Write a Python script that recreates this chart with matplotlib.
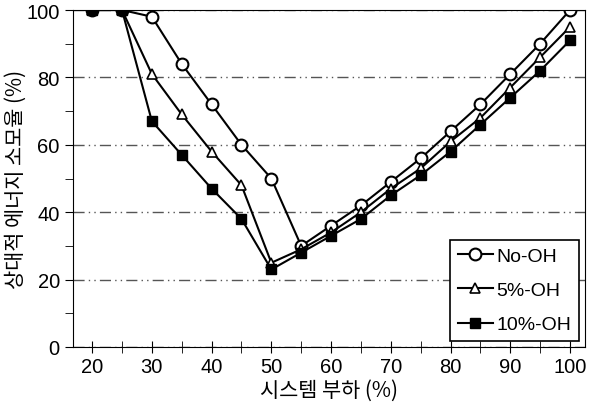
import matplotlib
matplotlib.use("Agg")
import matplotlib.pyplot as plt
from matplotlib.ticker import MultipleLocator

plt.rcParams['font.family'] = ['Liberation Sans', 'Noto Sans CJK KR', 'DejaVu Sans']

load = [20, 25, 30, 35, 40, 45, 50, 55, 60, 65, 70, 75, 80, 85, 90, 95, 100]
no_oh = [100, 100, 98, 84, 72, 60, 50, 30, 36, 42, 49, 56, 64, 72, 81, 90, 100]
oh5 = [100, 100, 81, 69, 58, 48, 25, 29, 34, 40, 47, 53, 61, 68, 77, 86, 95]
oh10 = [100, 100, 67, 57, 47, 38, 23, 28, 33, 38, 45, 51, 58, 66, 74, 82, 91]

fig = plt.figure(figsize=(5.97, 4.14), dpi=100)
ax = fig.add_axes([73/597, 66/414, 512/597, 337/414])

ax.plot(load, no_oh, '-o', color='black', mfc='white', mec='black', ms=8.5, mew=1.5, lw=1.5, label='No-OH')
ax.plot(load, oh5, '-^', color='black', mfc='white', mec='black', ms=7.5, mew=1.2, lw=1.5, label='5%-OH')
ax.plot(load, oh10, '-s', color='black', mfc='black', mec='black', ms=7.5, lw=1.5, label='10%-OH')

ax.set_xlim(16.8, 102.5)
ax.set_ylim(0, 100)
ax.xaxis.set_major_locator(MultipleLocator(10))
ax.xaxis.set_minor_locator(MultipleLocator(5))
ax.yaxis.set_major_locator(MultipleLocator(20))
ax.yaxis.set_minor_locator(MultipleLocator(10))
ax.tick_params(axis='x', which='both', direction='inout', length=8, labelsize=14.5)
ax.tick_params(axis='y', which='both', direction='out', length=6, labelsize=14.5)
ax.grid(axis='y', which='major', color='#555555', linestyle=(0, (8, 3, 1, 3, 1, 3)), lw=1)

kfont = ['Noto Sans CJK KR', 'DejaVu Sans']
ax.set_xlabel('시스템 부하 (%)', fontsize=15, family=kfont, weight='medium', labelpad=2)
ax.set_ylabel('상대적 에너지 소모율 (%)', fontsize=15, family=kfont, weight='medium', labelpad=0)

leg = ax.legend(loc='lower right', fontsize=14, fancybox=False, edgecolor='black',
                handlelength=1.8, handletextpad=0.2, labelspacing=0.85,
                borderaxespad=0.3, framealpha=1)
leg.get_frame().set_linewidth(1.2)

fig.savefig('out.png', dpi=100)
